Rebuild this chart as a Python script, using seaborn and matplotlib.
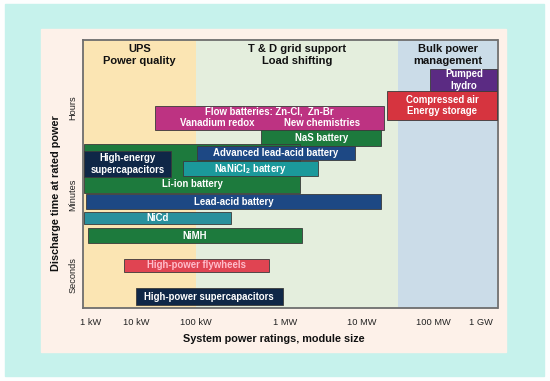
import numpy as np
import matplotlib
matplotlib.use("Agg")
import matplotlib.pyplot as plt
from matplotlib.patches import Rectangle
import seaborn as sns

# ---------------- data ----------------
TECH_NAMES = [
    "Pumped\nhydro",
    "Compressed air\nEnergy storage",
    "Flow batteries: Zn-Cl,  Zn-Br",
    "NaS battery",
    "Li-ion battery",
    "Advanced lead-acid battery",
    "High-energy\nsupercapacitors",
    "NaNiCl$_\\mathbf{2}$ battery",
    "Lead-acid battery",
    "NiCd",
    "NiMH",
    "High-power flywheels",
    "High-power supercapacitors",
]
POWER_MIN_KW = [90000, 22000, 21, 540, 0.72, 103, 0.72, 61, 0.80, 0.72, 0.88, 5.5, 10]
POWER_MAX_KW = [2.2e6, 2.2e6, 20000, 18500, 1550, 8000, 39, 2700, 18500, 250, 1650, 650, 940]
TIME_LOW = [217, 188, 178, 162, 115, 148, 131, 132, 99, 84, 65, 36, 3]
TIME_HIGH = [239, 217, 202, 178, 164, 162, 157, 147, 114, 96, 80, 49, 20]
FLOW_SUBLABELS = ["Vanadium redox", "New chemistries"]

REGION_NAMES = ["UPS\nPower quality", "T & D grid support\nLoad shifting", "Bulk power\nmanagement"]
REGION_EDGES_KW = [0.683, 100, 32000, 2.23e6]

X_TICKS_KW = [1, 10, 100, 1e3, 1e4, 1e5, 1e6]
X_TICK_LABELS = ["1 kW", "10 kW", "100 kW", "1 MW", "10 MW", "100 MW", "1 GW"]
Y_TICKS = [200, 113, 33]
Y_TICK_LABELS = ["Hours", "Minutes", "Seconds"]

# ---------------- style ----------------
COLORS = ["#5b2b83", "#d6343f", "#bd3382", "#1d7a3d", "#1d7a3d", "#1d4884",
          "#0f2747", "#1b999b", "#1d4884", "#2a909d", "#1d7a3d", "#e04452", "#0f2747"]
REGION_COLORS = ["#fbe5b3", "#e4eedd", "#cbdce8"]
BAR_FS = 6.9

sns.set_style("white")
plt.rcParams["font.family"] = ["Liberation Sans", "DejaVu Sans"]
plt.rcParams["mathtext.fontset"] = "custom"
plt.rcParams["mathtext.rm"] = "Liberation Sans"
plt.rcParams["mathtext.bf"] = "Liberation Sans:bold"

# distorted log axis as in the original drawing
_LOG = np.array([-2, 0, 1, 2, 3, 4, 5, 6, 8], dtype=float)
_POS = np.array([0.0, 90.5, 135.8, 195.8, 285.3, 362.1, 433.7, 481.0, 575.6])
_POS[0] = 90.5 - 2 * 45.3


def fwd(x):
    x = np.asarray(x, dtype=float)
    return np.interp(np.log10(np.clip(x, 1e-6, None)), _LOG, _POS)


def inv(p):
    p = np.asarray(p, dtype=float)
    return 10 ** np.interp(p, _POS, _LOG)


def mid(a, b, f=0.5):
    return float(inv(fwd(a) + f * (fwd(b) - fwd(a))))


W, H = 550, 381
fig = plt.figure(figsize=(W / 100, H / 100), dpi=100)
fig.patch.set_facecolor("#fdfefe")
fig.patches.append(Rectangle((5 / W, 1 - 376 / H), 539 / W, 372 / H,
                             transform=fig.transFigure, color="#c6f2ec", zorder=-2))
fig.patches.append(Rectangle((41 / W, 1 - 352 / H), 465 / W, 323 / H,
                             transform=fig.transFigure, color="#fdf1e9", zorder=-1))

ax = fig.add_axes([83 / W, 1 - 308 / H, 414.5 / W, 268.5 / H])
ax.set_zorder(2)
ax.set_xscale("function", functions=(fwd, inv))
ax.set_xlim(REGION_EDGES_KW[0], REGION_EDGES_KW[-1])
ax.set_ylim(0, 268.5)

for i, (name, c) in enumerate(zip(REGION_NAMES, REGION_COLORS)):
    a, b = REGION_EDGES_KW[i], REGION_EDGES_KW[i + 1]
    ax.axvspan(a, b, color=c, zorder=0, lw=0)
    ax.text(mid(a, b), 253, name, ha="center", va="center", fontsize=8.0,
            fontweight="bold", color="#111111", linespacing=1.25, zorder=5)

for i, name in enumerate(TECH_NAMES):
    x0, x1 = POWER_MIN_KW[i], POWER_MAX_KW[i]
    y0, y1 = TIME_LOW[i], TIME_HIGH[i]
    ax.barh((y0 + y1) / 2, x1 - x0, left=x0, height=y1 - y0, color=COLORS[i],
            edgecolor="#3a3a3a", linewidth=0.6, zorder=3 + i * 0.01)
    ty = (y0 + y1) / 2
    tcolor = "white"
    if name.startswith("Li-ion"):
        ty = 124
    if name.startswith("High-power fly"):
        tcolor = "#ffbccb"
    if name.startswith("Flow"):
        ax.text(mid(x0, x1), 196.5, name, ha="center", va="center", fontsize=BAR_FS,
                fontweight="bold", color="white", zorder=4)
        for f, sub in zip([0.27, 0.73], FLOW_SUBLABELS):
            ax.text(mid(x0, x1, f), 185, sub, ha="center", va="center", fontsize=BAR_FS,
                    fontweight="bold", color="white", zorder=4)
        continue
    ax.text(mid(x0, x1), ty, name, ha="center", va="center", fontsize=BAR_FS,
            fontweight="bold", color=tcolor, linespacing=1.18, zorder=4)

ax.set_xticks(X_TICKS_KW)
ax.set_xticklabels(X_TICK_LABELS, fontsize=6.7, color="#222222")
ax.set_yticks(Y_TICKS)
ax.set_yticklabels(Y_TICK_LABELS, fontsize=6.7, color="#222222", rotation=90, va="center")
ax.tick_params(axis="x", length=0, pad=7)
ax.tick_params(axis="y", length=0, pad=4)
ax.xaxis.set_minor_locator(matplotlib.ticker.NullLocator())

for s in ax.spines.values():
    s.set_color("#6e6e6e")
    s.set_linewidth(1.3)
    s.set_visible(True)

ax.text(0.461, -0.1155, "System power ratings, module size", transform=ax.transAxes,
        ha="center", va="center", fontsize=7.8, fontweight="bold", color="#111111")
ax.text(-0.0663, 0.428, "Discharge time at rated power", transform=ax.transAxes,
        ha="center", va="center", rotation=90, fontsize=7.8, fontweight="bold",
        color="#111111")

fig.savefig("out.png", dpi=100)
